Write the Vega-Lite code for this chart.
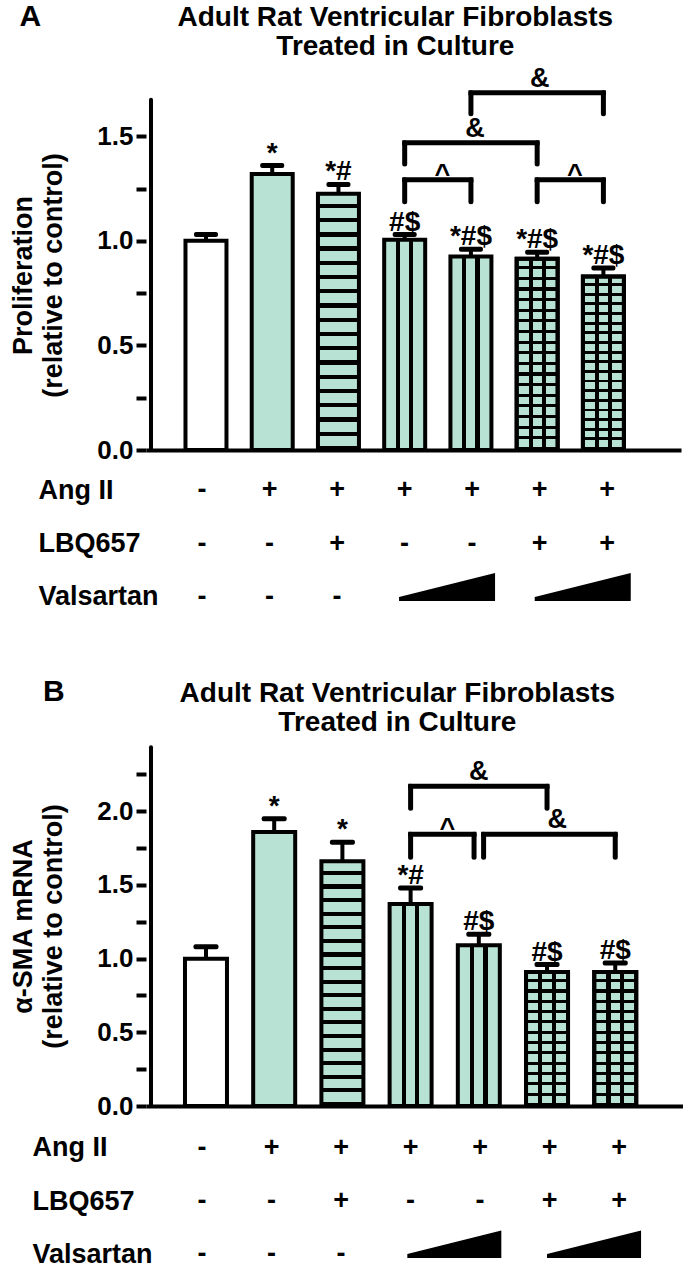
{
"$schema": "https://vega.github.io/schema/vega-lite/v6.json",
"background": "white",
"padding": {"left": 9, "top": 2, "right": 0, "bottom": 0},
"config": {
 "font": "Liberation Sans",
 "view": {"stroke": null},
 "text": {"font": "Liberation Sans", "fontWeight": "bold", "color": "black"}
},
"datasets": {
 "barsA": [
  {"bar": 1, "value": 1.00, "upper": 1.03, "label": ""},
  {"bar": 2, "value": 1.32, "upper": 1.36, "label": "*"},
  {"bar": 3, "value": 1.225, "upper": 1.27, "label": "*#"},
  {"bar": 4, "value": 1.005, "upper": 1.03, "label": "#$"},
  {"bar": 5, "value": 0.925, "upper": 0.96, "label": "*#$"},
  {"bar": 6, "value": 0.915, "upper": 0.945, "label": "*#$"},
  {"bar": 7, "value": 0.83, "upper": 0.87, "label": "*#$"}
 ],
 "bracketsA": [
  {"x1": 5, "x2": 7, "xm": 6.04, "y": 1.708, "leg": 1.608, "label": "&"},
  {"x1": 4, "x2": 6, "xm": 5.06, "y": 1.469, "leg": 1.368, "label": "&"},
  {"x1": 4, "x2": 5, "xm": 4.57, "y": 1.292, "leg": 1.187, "label": "^"},
  {"x1": 6, "x2": 7, "xm": 6.57, "y": 1.292, "leg": 1.187, "label": "^"}
 ],
 "barsB": [
  {"bar": 1, "value": 1.00, "upper": 1.08, "label": ""},
  {"bar": 2, "value": 1.86, "upper": 1.95, "label": "*"},
  {"bar": 3, "value": 1.66, "upper": 1.79, "label": "*"},
  {"bar": 4, "value": 1.37, "upper": 1.48, "label": "*#"},
  {"bar": 5, "value": 1.09, "upper": 1.165, "label": "#$"},
  {"bar": 6, "value": 0.91, "upper": 0.96, "label": "#$"},
  {"bar": 7, "value": 0.91, "upper": 0.97, "label": "#$"}
 ],
 "bracketsB": [
  {"x1": 4, "x2": 6, "xm": 5.0, "y": 2.169, "leg": 2.02, "label": "&"},
  {"x1": 4, "x2": 4.93, "xm": 4.54, "y": 1.844, "leg": 1.688, "label": "^"},
  {"x1": 5.07, "x2": 7, "xm": 6.15, "y": 1.844, "leg": 1.688, "label": "&"}
 ],
 "titles": [
  {"t": ["Adult Rat Ventricular Fibroblasts", "Treated in Culture"]}
 ],
 "table": [
  {"bar": 1, "row": "Ang II", "sign": "-"},
  {"bar": 2, "row": "Ang II", "sign": "+"},
  {"bar": 3, "row": "Ang II", "sign": "+"},
  {"bar": 4, "row": "Ang II", "sign": "+"},
  {"bar": 5, "row": "Ang II", "sign": "+"},
  {"bar": 6, "row": "Ang II", "sign": "+"},
  {"bar": 7, "row": "Ang II", "sign": "+"},
  {"bar": 1, "row": "LBQ657", "sign": "-"},
  {"bar": 2, "row": "LBQ657", "sign": "-"},
  {"bar": 3, "row": "LBQ657", "sign": "+"},
  {"bar": 4, "row": "LBQ657", "sign": "-"},
  {"bar": 5, "row": "LBQ657", "sign": "-"},
  {"bar": 6, "row": "LBQ657", "sign": "+"},
  {"bar": 7, "row": "LBQ657", "sign": "+"},
  {"bar": 1, "row": "Valsartan", "sign": "-"},
  {"bar": 2, "row": "Valsartan", "sign": "-"},
  {"bar": 3, "row": "Valsartan", "sign": "-"}
 ],
 "wedges": [
  {"x": 4.63, "row": "Valsartan"},
  {"x": 6.64, "row": "Valsartan"}
 ]
},
"spacing": 64,
"vconcat": [
 {
  "spacing": 11,
  "vconcat": [
   {
    "width": 535, "height": 389,
    "data": {"name": "barsA"},
    "layer": [
     {"mark": {"type": "bar", "size": 41, "stroke": "black", "strokeWidth": 4},
      "transform": [{"filter": "datum.bar <= 2"}],
      "encoding": {
       "x": {"field": "bar", "type": "quantitative", "scale": {"domain": [0.17, 8.096], "nice": false, "zero": false},
             "axis": {"domain": true, "domainWidth": 4, "domainColor": "black", "ticks": false, "labels": false, "title": null, "grid": false}},
       "y": {"field": "value", "type": "quantitative", "scale": {"domain": [0, 1.86], "nice": false, "zero": false},
             "axis": {"values": [0, 0.25, 0.5, 0.75, 1, 1.25, 1.5], "labelExpr": "datum.value % 0.5 == 0 ? format(datum.value, '.1f') : ''",
                      "domain": false, "grid": false, "tickSize": 10, "tickWidth": 4, "tickColor": "black",
                      "labelFontSize": 26, "labelFontWeight": "bold", "labelColor": "black", "labelPadding": 3, "labelOverlap": false, "labelFont": "Liberation Sans",
                      "title": ["Proliferation", "(relative to control)"], "titleFontSize": 27, "titleFontWeight": "bold", "titleColor": "black", "titleFont": "Liberation Sans",
                      "titlePadding": 29, "titleLineHeight": 30, "titleY": 214}},
       "fill": {"condition": {"test": "datum.bar == 1", "value": "white"}, "value": "#b7e2d4"}
      }},
     {"mark": {"type": "bar", "size": 41, "stroke": "black", "strokeWidth": 4,
               "fill": {"gradient": "linear", "x1": 0, "y1": 0, "x2": 0, "y2": 1, "stops": [
{"offset":0,"color":"#b7e2d4"},{"offset":0.0389,"color":"#b7e2d4"},{"offset":0.0389,"color":"#000000"},{"offset":0.0556,"color":"#000000"},
{"offset":0.0556,"color":"#b7e2d4"},{"offset":0.0944,"color":"#b7e2d4"},{"offset":0.0944,"color":"#000000"},{"offset":0.1111,"color":"#000000"},
{"offset":0.1111,"color":"#b7e2d4"},{"offset":0.15,"color":"#b7e2d4"},{"offset":0.15,"color":"#000000"},{"offset":0.1667,"color":"#000000"},
{"offset":0.1667,"color":"#b7e2d4"},{"offset":0.2056,"color":"#b7e2d4"},{"offset":0.2056,"color":"#000000"},{"offset":0.2222,"color":"#000000"},
{"offset":0.2222,"color":"#b7e2d4"},{"offset":0.2611,"color":"#b7e2d4"},{"offset":0.2611,"color":"#000000"},{"offset":0.2778,"color":"#000000"},
{"offset":0.2778,"color":"#b7e2d4"},{"offset":0.3167,"color":"#b7e2d4"},{"offset":0.3167,"color":"#000000"},{"offset":0.3333,"color":"#000000"},
{"offset":0.3333,"color":"#b7e2d4"},{"offset":0.3722,"color":"#b7e2d4"},{"offset":0.3722,"color":"#000000"},{"offset":0.3889,"color":"#000000"},
{"offset":0.3889,"color":"#b7e2d4"},{"offset":0.4278,"color":"#b7e2d4"},{"offset":0.4278,"color":"#000000"},{"offset":0.4444,"color":"#000000"},
{"offset":0.4444,"color":"#b7e2d4"},{"offset":0.4833,"color":"#b7e2d4"},{"offset":0.4833,"color":"#000000"},{"offset":0.5,"color":"#000000"},
{"offset":0.5,"color":"#b7e2d4"},{"offset":0.5389,"color":"#b7e2d4"},{"offset":0.5389,"color":"#000000"},{"offset":0.5556,"color":"#000000"},
{"offset":0.5556,"color":"#b7e2d4"},{"offset":0.5944,"color":"#b7e2d4"},{"offset":0.5944,"color":"#000000"},{"offset":0.6111,"color":"#000000"},
{"offset":0.6111,"color":"#b7e2d4"},{"offset":0.65,"color":"#b7e2d4"},{"offset":0.65,"color":"#000000"},{"offset":0.6667,"color":"#000000"},
{"offset":0.6667,"color":"#b7e2d4"},{"offset":0.7056,"color":"#b7e2d4"},{"offset":0.7056,"color":"#000000"},{"offset":0.7222,"color":"#000000"},
{"offset":0.7222,"color":"#b7e2d4"},{"offset":0.7611,"color":"#b7e2d4"},{"offset":0.7611,"color":"#000000"},{"offset":0.7778,"color":"#000000"},
{"offset":0.7778,"color":"#b7e2d4"},{"offset":0.8167,"color":"#b7e2d4"},{"offset":0.8167,"color":"#000000"},{"offset":0.8333,"color":"#000000"},
{"offset":0.8333,"color":"#b7e2d4"},{"offset":0.8722,"color":"#b7e2d4"},{"offset":0.8722,"color":"#000000"},{"offset":0.8889,"color":"#000000"},
{"offset":0.8889,"color":"#b7e2d4"},{"offset":0.9278,"color":"#b7e2d4"},{"offset":0.9278,"color":"#000000"},{"offset":0.9444,"color":"#000000"},
{"offset":0.9444,"color":"#b7e2d4"},{"offset":0.9833,"color":"#b7e2d4"},{"offset":0.9833,"color":"#000000"},{"offset":1,"color":"#000000"}]}},
      "transform": [{"filter": "datum.bar == 3"}],
      "encoding": {
       "x": {"field": "bar", "type": "quantitative", "scale": {"domain": [0.17, 8.096], "nice": false, "zero": false}},
       "y": {"field": "value", "type": "quantitative", "scale": {"domain": [0, 1.86], "nice": false, "zero": false}}
      }},
     {"mark": {"type": "bar", "size": 41, "stroke": "black", "strokeWidth": 4,
               "fill": {"gradient": "linear", "x1": 0, "y1": 0, "x2": 1, "y2": 0, "stops": [
{"offset":0,"color":"#b7e2d4"},{"offset":0.29,"color":"#b7e2d4"},{"offset":0.29,"color":"#000000"},{"offset":0.39,"color":"#000000"},
{"offset":0.39,"color":"#b7e2d4"},{"offset":0.61,"color":"#b7e2d4"},{"offset":0.61,"color":"#000000"},{"offset":0.71,"color":"#000000"},
{"offset":0.71,"color":"#b7e2d4"},{"offset":1,"color":"#b7e2d4"}]}},
      "transform": [{"filter": "datum.bar >= 4"}],
      "encoding": {
       "x": {"field": "bar", "type": "quantitative", "scale": {"domain": [0.17, 8.096], "nice": false, "zero": false}},
       "y": {"field": "value", "type": "quantitative", "scale": {"domain": [0, 1.86], "nice": false, "zero": false}}
      }},
     {"mark": {"type": "bar", "size": 41, "stroke": "black", "strokeWidth": 4,
               "fill": {"gradient": "linear", "x1": 0, "y1": 0, "x2": 0, "y2": 1, "stops": [
{"offset":0,"color":"rgba(0,0,0,0)"},{"offset":0.0389,"color":"rgba(0,0,0,0)"},{"offset":0.0389,"color":"#000000"},{"offset":0.0556,"color":"#000000"},
{"offset":0.0556,"color":"rgba(0,0,0,0)"},{"offset":0.0944,"color":"rgba(0,0,0,0)"},{"offset":0.0944,"color":"#000000"},{"offset":0.1111,"color":"#000000"},
{"offset":0.1111,"color":"rgba(0,0,0,0)"},{"offset":0.15,"color":"rgba(0,0,0,0)"},{"offset":0.15,"color":"#000000"},{"offset":0.1667,"color":"#000000"},
{"offset":0.1667,"color":"rgba(0,0,0,0)"},{"offset":0.2056,"color":"rgba(0,0,0,0)"},{"offset":0.2056,"color":"#000000"},{"offset":0.2222,"color":"#000000"},
{"offset":0.2222,"color":"rgba(0,0,0,0)"},{"offset":0.2611,"color":"rgba(0,0,0,0)"},{"offset":0.2611,"color":"#000000"},{"offset":0.2778,"color":"#000000"},
{"offset":0.2778,"color":"rgba(0,0,0,0)"},{"offset":0.3167,"color":"rgba(0,0,0,0)"},{"offset":0.3167,"color":"#000000"},{"offset":0.3333,"color":"#000000"},
{"offset":0.3333,"color":"rgba(0,0,0,0)"},{"offset":0.3722,"color":"rgba(0,0,0,0)"},{"offset":0.3722,"color":"#000000"},{"offset":0.3889,"color":"#000000"},
{"offset":0.3889,"color":"rgba(0,0,0,0)"},{"offset":0.4278,"color":"rgba(0,0,0,0)"},{"offset":0.4278,"color":"#000000"},{"offset":0.4444,"color":"#000000"},
{"offset":0.4444,"color":"rgba(0,0,0,0)"},{"offset":0.4833,"color":"rgba(0,0,0,0)"},{"offset":0.4833,"color":"#000000"},{"offset":0.5,"color":"#000000"},
{"offset":0.5,"color":"rgba(0,0,0,0)"},{"offset":0.5389,"color":"rgba(0,0,0,0)"},{"offset":0.5389,"color":"#000000"},{"offset":0.5556,"color":"#000000"},
{"offset":0.5556,"color":"rgba(0,0,0,0)"},{"offset":0.5944,"color":"rgba(0,0,0,0)"},{"offset":0.5944,"color":"#000000"},{"offset":0.6111,"color":"#000000"},
{"offset":0.6111,"color":"rgba(0,0,0,0)"},{"offset":0.65,"color":"rgba(0,0,0,0)"},{"offset":0.65,"color":"#000000"},{"offset":0.6667,"color":"#000000"},
{"offset":0.6667,"color":"rgba(0,0,0,0)"},{"offset":0.7056,"color":"rgba(0,0,0,0)"},{"offset":0.7056,"color":"#000000"},{"offset":0.7222,"color":"#000000"},
{"offset":0.7222,"color":"rgba(0,0,0,0)"},{"offset":0.7611,"color":"rgba(0,0,0,0)"},{"offset":0.7611,"color":"#000000"},{"offset":0.7778,"color":"#000000"},
{"offset":0.7778,"color":"rgba(0,0,0,0)"},{"offset":0.8167,"color":"rgba(0,0,0,0)"},{"offset":0.8167,"color":"#000000"},{"offset":0.8333,"color":"#000000"},
{"offset":0.8333,"color":"rgba(0,0,0,0)"},{"offset":0.8722,"color":"rgba(0,0,0,0)"},{"offset":0.8722,"color":"#000000"},{"offset":0.8889,"color":"#000000"},
{"offset":0.8889,"color":"rgba(0,0,0,0)"},{"offset":0.9278,"color":"rgba(0,0,0,0)"},{"offset":0.9278,"color":"#000000"},{"offset":0.9444,"color":"#000000"},
{"offset":0.9444,"color":"rgba(0,0,0,0)"},{"offset":0.9833,"color":"rgba(0,0,0,0)"},{"offset":0.9833,"color":"#000000"},{"offset":1,"color":"#000000"}]}},
      "transform": [{"filter": "datum.bar >= 6"}],
      "encoding": {
       "x": {"field": "bar", "type": "quantitative", "scale": {"domain": [0.17, 8.096], "nice": false, "zero": false}},
       "y": {"field": "value", "type": "quantitative", "scale": {"domain": [0, 1.86], "nice": false, "zero": false}}
      }},
     {"mark": {"type": "rule", "strokeWidth": 4, "color": "black"},
      "encoding": {
       "x": {"field": "bar", "type": "quantitative", "scale": {"domain": [0.17, 8.096], "nice": false, "zero": false}},
       "y": {"field": "value", "type": "quantitative", "scale": {"domain": [0, 1.86], "nice": false, "zero": false}},
       "y2": {"field": "upper"}
      }},
     {"mark": {"type": "tick", "orient": "horizontal", "size": 24, "thickness": 5, "color": "black", "opacity": 1, "cornerRadius": 2},
      "encoding": {
       "x": {"field": "bar", "type": "quantitative", "scale": {"domain": [0.17, 8.096], "nice": false, "zero": false}},
       "y": {"field": "upper", "type": "quantitative", "scale": {"domain": [0, 1.86], "nice": false, "zero": false}}
      }},
     {"mark": {"type": "text", "fontSize": 28, "fontWeight": "bold", "align": "center", "baseline": "alphabetic", "dy": -4},
      "encoding": {
       "x": {"field": "bar", "type": "quantitative", "scale": {"domain": [0.17, 8.096], "nice": false, "zero": false}},
       "y": {"field": "upper", "type": "quantitative", "scale": {"domain": [0, 1.86], "nice": false, "zero": false}},
       "text": {"field": "label"}
      }},
     {"data": {"name": "bracketsA"},
      "mark": {"type": "rule", "strokeWidth": 5, "color": "black", "strokeCap": "square"},
      "encoding": {
       "x": {"field": "x1", "type": "quantitative", "scale": {"domain": [0.17, 8.096], "nice": false, "zero": false}},
       "x2": {"field": "x2"},
       "y": {"field": "y", "type": "quantitative", "scale": {"domain": [0, 1.86], "nice": false, "zero": false}}
      }},
     {"data": {"name": "bracketsA"},
      "mark": {"type": "rule", "strokeWidth": 5, "color": "black", "strokeCap": "round"},
      "encoding": {
       "x": {"field": "x1", "type": "quantitative", "scale": {"domain": [0.17, 8.096], "nice": false, "zero": false}},
       "y": {"field": "leg", "type": "quantitative", "scale": {"domain": [0, 1.86], "nice": false, "zero": false}},
       "y2": {"field": "y"}
      }},
     {"data": {"name": "bracketsA"},
      "mark": {"type": "rule", "strokeWidth": 5, "color": "black", "strokeCap": "round"},
      "encoding": {
       "x": {"field": "x2", "type": "quantitative", "scale": {"domain": [0.17, 8.096], "nice": false, "zero": false}},
       "y": {"field": "leg", "type": "quantitative", "scale": {"domain": [0, 1.86], "nice": false, "zero": false}},
       "y2": {"field": "y"}
      }},
     {"data": {"name": "bracketsA"},
      "transform": [{"filter": "datum.label == '&'"}],
      "mark": {"type": "text", "fontSize": 27, "fontWeight": "bold", "align": "center", "baseline": "alphabetic", "dy": -6},
      "encoding": {
       "x": {"field": "xm", "type": "quantitative", "scale": {"domain": [0.17, 8.096], "nice": false, "zero": false}},
       "y": {"field": "y", "type": "quantitative", "scale": {"domain": [0, 1.86], "nice": false, "zero": false}},
       "text": {"field": "label"}
      }},
     {"data": {"name": "bracketsA"},
      "transform": [{"filter": "datum.label == '^'"}],
      "mark": {"type": "text", "fontSize": 27, "fontWeight": "bold", "align": "center", "baseline": "alphabetic", "dy": 3},
      "encoding": {
       "x": {"field": "xm", "type": "quantitative", "scale": {"domain": [0.17, 8.096], "nice": false, "zero": false}},
       "y": {"field": "y", "type": "quantitative", "scale": {"domain": [0, 1.86], "nice": false, "zero": false}},
       "text": {"field": "label"}
      }},
     {"data": {"values": [{"t": "A"}]},
      "mark": {"type": "rule", "strokeWidth": 4, "color": "black", "strokeCap": "round"},
      "encoding": {
       "x": {"datum": 0.17, "type": "quantitative", "scale": {"domain": [0.17, 8.096], "nice": false, "zero": false}},
       "y": {"datum": 0, "type": "quantitative", "scale": {"domain": [0, 1.86], "nice": false, "zero": false}},
       "y2": {"datum": 1.675}
      }},
     {"data": {"values": [{"t": "A"}]},
      "mark": {"type": "text", "fontSize": 30, "fontWeight": "bold", "align": "left", "baseline": "middle"},
      "encoding": {
       "x": {"datum": -1.815, "type": "quantitative", "scale": {"domain": [0.17, 8.096], "nice": false, "zero": false}},
       "y": {"datum": 2.07, "type": "quantitative", "scale": {"domain": [0, 1.86], "nice": false, "zero": false}},
       "text": {"field": "t"}
      }},
     {"data": {"name": "titles"},
      "mark": {"type": "text", "fontSize": 28, "fontWeight": "bold", "align": "center", "baseline": "middle", "lineHeight": 29},
      "encoding": {
       "x": {"datum": 3.859, "type": "quantitative", "scale": {"domain": [0.17, 8.096], "nice": false, "zero": false}},
       "y": {"datum": 2.066, "type": "quantitative", "scale": {"domain": [0, 1.86], "nice": false, "zero": false}},
       "text": {"field": "t"}
      }}
    ]
   },
   {
    "width": 535, "height": 139,
    "layer": [
     {"data": {"name": "table"},
      "mark": {"type": "text", "fontSize": 27, "fontWeight": "bold", "align": "center", "baseline": "middle"},
      "encoding": {
       "x": {"field": "bar", "type": "quantitative", "scale": {"domain": [0.17, 8.096], "nice": false, "zero": false}, "axis": null},
       "y": {"field": "row", "type": "nominal", "scale": {"domain": ["Ang II", "LBQ657", "Valsartan"], "padding": 0.3},
             "axis": {"title": null, "domain": false, "ticks": false, "tickSize": 0, "labelAlign": "left", "labelPadding": 108, "labelFontSize": 27, "labelFontWeight": "bold", "labelColor": "black", "labelFont": "Liberation Sans", "labelBaseline": "middle"}},
       "text": {"field": "sign"}
      }},
     {"data": {"name": "wedges"},
      "mark": {"type": "point", "shape": "M-1,0.083L-1,0L1,-0.5L1,0.083Z", "size": 9216, "filled": true, "color": "black", "opacity": 1, "strokeWidth": 0},
      "encoding": {
       "x": {"field": "x", "type": "quantitative", "scale": {"domain": [0.17, 8.096], "nice": false, "zero": false}, "axis": null},
       "y": {"field": "row", "type": "nominal", "scale": {"domain": ["Ang II", "LBQ657", "Valsartan"], "padding": 0.3}}
      }}
    ]
   }
  ]
 },
 {
  "spacing": 13,
  "vconcat": [
   {
    "width": 537, "height": 364,
    "data": {"name": "barsB"},
    "layer": [
     {"mark": {"type": "bar", "size": 42, "stroke": "black", "strokeWidth": 4},
      "transform": [{"filter": "datum.bar <= 2"}],
      "encoding": {
       "x": {"field": "bar", "type": "quantitative", "scale": {"domain": [0.194, 7.92], "nice": false, "zero": false},
             "axis": {"domain": true, "domainWidth": 4, "domainColor": "black", "ticks": false, "labels": false, "title": null, "grid": false}},
       "y": {"field": "value", "type": "quantitative", "scale": {"domain": [0, 2.47], "nice": false, "zero": false},
             "axis": {"values": [0, 0.25, 0.5, 0.75, 1, 1.25, 1.5, 1.75, 2, 2.25], "labelExpr": "datum.value % 0.5 == 0 ? format(datum.value, '.1f') : ''",
                      "domain": false, "grid": false, "tickSize": 10, "tickWidth": 4, "tickColor": "black",
                      "labelFontSize": 26, "labelFontWeight": "bold", "labelColor": "black", "labelPadding": 3, "labelOverlap": false, "labelFont": "Liberation Sans",
                      "title": ["α-SMA mRNA", "(relative to control)"], "titleFontSize": 27, "titleFontWeight": "bold", "titleColor": "black", "titleFont": "Liberation Sans",
                      "titlePadding": 29, "titleLineHeight": 30, "titleY": 184}},
       "fill": {"condition": {"test": "datum.bar == 1", "value": "white"}, "value": "#b7e2d4"}
      }},
     {"mark": {"type": "bar", "size": 42, "stroke": "black", "strokeWidth": 4,
               "fill": {"gradient": "linear", "x1": 0, "y1": 0, "x2": 0, "y2": 1, "stops": [
{"offset":0,"color":"#b7e2d4"},{"offset":0.0389,"color":"#b7e2d4"},{"offset":0.0389,"color":"#000000"},{"offset":0.0556,"color":"#000000"},
{"offset":0.0556,"color":"#b7e2d4"},{"offset":0.0944,"color":"#b7e2d4"},{"offset":0.0944,"color":"#000000"},{"offset":0.1111,"color":"#000000"},
{"offset":0.1111,"color":"#b7e2d4"},{"offset":0.15,"color":"#b7e2d4"},{"offset":0.15,"color":"#000000"},{"offset":0.1667,"color":"#000000"},
{"offset":0.1667,"color":"#b7e2d4"},{"offset":0.2056,"color":"#b7e2d4"},{"offset":0.2056,"color":"#000000"},{"offset":0.2222,"color":"#000000"},
{"offset":0.2222,"color":"#b7e2d4"},{"offset":0.2611,"color":"#b7e2d4"},{"offset":0.2611,"color":"#000000"},{"offset":0.2778,"color":"#000000"},
{"offset":0.2778,"color":"#b7e2d4"},{"offset":0.3167,"color":"#b7e2d4"},{"offset":0.3167,"color":"#000000"},{"offset":0.3333,"color":"#000000"},
{"offset":0.3333,"color":"#b7e2d4"},{"offset":0.3722,"color":"#b7e2d4"},{"offset":0.3722,"color":"#000000"},{"offset":0.3889,"color":"#000000"},
{"offset":0.3889,"color":"#b7e2d4"},{"offset":0.4278,"color":"#b7e2d4"},{"offset":0.4278,"color":"#000000"},{"offset":0.4444,"color":"#000000"},
{"offset":0.4444,"color":"#b7e2d4"},{"offset":0.4833,"color":"#b7e2d4"},{"offset":0.4833,"color":"#000000"},{"offset":0.5,"color":"#000000"},
{"offset":0.5,"color":"#b7e2d4"},{"offset":0.5389,"color":"#b7e2d4"},{"offset":0.5389,"color":"#000000"},{"offset":0.5556,"color":"#000000"},
{"offset":0.5556,"color":"#b7e2d4"},{"offset":0.5944,"color":"#b7e2d4"},{"offset":0.5944,"color":"#000000"},{"offset":0.6111,"color":"#000000"},
{"offset":0.6111,"color":"#b7e2d4"},{"offset":0.65,"color":"#b7e2d4"},{"offset":0.65,"color":"#000000"},{"offset":0.6667,"color":"#000000"},
{"offset":0.6667,"color":"#b7e2d4"},{"offset":0.7056,"color":"#b7e2d4"},{"offset":0.7056,"color":"#000000"},{"offset":0.7222,"color":"#000000"},
{"offset":0.7222,"color":"#b7e2d4"},{"offset":0.7611,"color":"#b7e2d4"},{"offset":0.7611,"color":"#000000"},{"offset":0.7778,"color":"#000000"},
{"offset":0.7778,"color":"#b7e2d4"},{"offset":0.8167,"color":"#b7e2d4"},{"offset":0.8167,"color":"#000000"},{"offset":0.8333,"color":"#000000"},
{"offset":0.8333,"color":"#b7e2d4"},{"offset":0.8722,"color":"#b7e2d4"},{"offset":0.8722,"color":"#000000"},{"offset":0.8889,"color":"#000000"},
{"offset":0.8889,"color":"#b7e2d4"},{"offset":0.9278,"color":"#b7e2d4"},{"offset":0.9278,"color":"#000000"},{"offset":0.9444,"color":"#000000"},
{"offset":0.9444,"color":"#b7e2d4"},{"offset":0.9833,"color":"#b7e2d4"},{"offset":0.9833,"color":"#000000"},{"offset":1,"color":"#000000"}]}},
      "transform": [{"filter": "datum.bar == 3"}],
      "encoding": {
       "x": {"field": "bar", "type": "quantitative", "scale": {"domain": [0.194, 7.92], "nice": false, "zero": false}},
       "y": {"field": "value", "type": "quantitative", "scale": {"domain": [0, 2.47], "nice": false, "zero": false}}
      }},
     {"mark": {"type": "bar", "size": 42, "stroke": "black", "strokeWidth": 4,
               "fill": {"gradient": "linear", "x1": 0, "y1": 0, "x2": 1, "y2": 0, "stops": [
{"offset":0,"color":"#b7e2d4"},{"offset":0.29,"color":"#b7e2d4"},{"offset":0.29,"color":"#000000"},{"offset":0.39,"color":"#000000"},
{"offset":0.39,"color":"#b7e2d4"},{"offset":0.61,"color":"#b7e2d4"},{"offset":0.61,"color":"#000000"},{"offset":0.71,"color":"#000000"},
{"offset":0.71,"color":"#b7e2d4"},{"offset":1,"color":"#b7e2d4"}]}},
      "transform": [{"filter": "datum.bar >= 4"}],
      "encoding": {
       "x": {"field": "bar", "type": "quantitative", "scale": {"domain": [0.194, 7.92], "nice": false, "zero": false}},
       "y": {"field": "value", "type": "quantitative", "scale": {"domain": [0, 2.47], "nice": false, "zero": false}}
      }},
     {"mark": {"type": "bar", "size": 42, "stroke": "black", "strokeWidth": 4,
               "fill": {"gradient": "linear", "x1": 0, "y1": 0, "x2": 0, "y2": 1, "stops": [
{"offset":0,"color":"rgba(0,0,0,0)"},{"offset":0.0538,"color":"rgba(0,0,0,0)"},{"offset":0.0538,"color":"#000000"},{"offset":0.0769,"color":"#000000"},
{"offset":0.0769,"color":"rgba(0,0,0,0)"},{"offset":0.1308,"color":"rgba(0,0,0,0)"},{"offset":0.1308,"color":"#000000"},{"offset":0.1538,"color":"#000000"},
{"offset":0.1538,"color":"rgba(0,0,0,0)"},{"offset":0.2077,"color":"rgba(0,0,0,0)"},{"offset":0.2077,"color":"#000000"},{"offset":0.2308,"color":"#000000"},
{"offset":0.2308,"color":"rgba(0,0,0,0)"},{"offset":0.2846,"color":"rgba(0,0,0,0)"},{"offset":0.2846,"color":"#000000"},{"offset":0.3077,"color":"#000000"},
{"offset":0.3077,"color":"rgba(0,0,0,0)"},{"offset":0.3615,"color":"rgba(0,0,0,0)"},{"offset":0.3615,"color":"#000000"},{"offset":0.3846,"color":"#000000"},
{"offset":0.3846,"color":"rgba(0,0,0,0)"},{"offset":0.4385,"color":"rgba(0,0,0,0)"},{"offset":0.4385,"color":"#000000"},{"offset":0.4615,"color":"#000000"},
{"offset":0.4615,"color":"rgba(0,0,0,0)"},{"offset":0.5154,"color":"rgba(0,0,0,0)"},{"offset":0.5154,"color":"#000000"},{"offset":0.5385,"color":"#000000"},
{"offset":0.5385,"color":"rgba(0,0,0,0)"},{"offset":0.5923,"color":"rgba(0,0,0,0)"},{"offset":0.5923,"color":"#000000"},{"offset":0.6154,"color":"#000000"},
{"offset":0.6154,"color":"rgba(0,0,0,0)"},{"offset":0.6692,"color":"rgba(0,0,0,0)"},{"offset":0.6692,"color":"#000000"},{"offset":0.6923,"color":"#000000"},
{"offset":0.6923,"color":"rgba(0,0,0,0)"},{"offset":0.7462,"color":"rgba(0,0,0,0)"},{"offset":0.7462,"color":"#000000"},{"offset":0.7692,"color":"#000000"},
{"offset":0.7692,"color":"rgba(0,0,0,0)"},{"offset":0.8231,"color":"rgba(0,0,0,0)"},{"offset":0.8231,"color":"#000000"},{"offset":0.8462,"color":"#000000"},
{"offset":0.8462,"color":"rgba(0,0,0,0)"},{"offset":0.9,"color":"rgba(0,0,0,0)"},{"offset":0.9,"color":"#000000"},{"offset":0.9231,"color":"#000000"},
{"offset":0.9231,"color":"rgba(0,0,0,0)"},{"offset":0.9769,"color":"rgba(0,0,0,0)"},{"offset":0.9769,"color":"#000000"},{"offset":1,"color":"#000000"}]}},
      "transform": [{"filter": "datum.bar >= 6"}],
      "encoding": {
       "x": {"field": "bar", "type": "quantitative", "scale": {"domain": [0.194, 7.92], "nice": false, "zero": false}},
       "y": {"field": "value", "type": "quantitative", "scale": {"domain": [0, 2.47], "nice": false, "zero": false}}
      }},
     {"mark": {"type": "rule", "strokeWidth": 4, "color": "black"},
      "encoding": {
       "x": {"field": "bar", "type": "quantitative", "scale": {"domain": [0.194, 7.92], "nice": false, "zero": false}},
       "y": {"field": "value", "type": "quantitative", "scale": {"domain": [0, 2.47], "nice": false, "zero": false}},
       "y2": {"field": "upper"}
      }},
     {"mark": {"type": "tick", "orient": "horizontal", "size": 25, "thickness": 5, "color": "black", "opacity": 1, "cornerRadius": 2},
      "encoding": {
       "x": {"field": "bar", "type": "quantitative", "scale": {"domain": [0.194, 7.92], "nice": false, "zero": false}},
       "y": {"field": "upper", "type": "quantitative", "scale": {"domain": [0, 2.47], "nice": false, "zero": false}}
      }},
     {"mark": {"type": "text", "fontSize": 28, "fontWeight": "bold", "align": "center", "baseline": "alphabetic", "dy": -4},
      "encoding": {
       "x": {"field": "bar", "type": "quantitative", "scale": {"domain": [0.194, 7.92], "nice": false, "zero": false}},
       "y": {"field": "upper", "type": "quantitative", "scale": {"domain": [0, 2.47], "nice": false, "zero": false}},
       "text": {"field": "label"}
      }},
     {"data": {"name": "bracketsB"},
      "mark": {"type": "rule", "strokeWidth": 5, "color": "black", "strokeCap": "square"},
      "encoding": {
       "x": {"field": "x1", "type": "quantitative", "scale": {"domain": [0.194, 7.92], "nice": false, "zero": false}},
       "x2": {"field": "x2"},
       "y": {"field": "y", "type": "quantitative", "scale": {"domain": [0, 2.47], "nice": false, "zero": false}}
      }},
     {"data": {"name": "bracketsB"},
      "mark": {"type": "rule", "strokeWidth": 5, "color": "black", "strokeCap": "round"},
      "encoding": {
       "x": {"field": "x1", "type": "quantitative", "scale": {"domain": [0.194, 7.92], "nice": false, "zero": false}},
       "y": {"field": "leg", "type": "quantitative", "scale": {"domain": [0, 2.47], "nice": false, "zero": false}},
       "y2": {"field": "y"}
      }},
     {"data": {"name": "bracketsB"},
      "mark": {"type": "rule", "strokeWidth": 5, "color": "black", "strokeCap": "round"},
      "encoding": {
       "x": {"field": "x2", "type": "quantitative", "scale": {"domain": [0.194, 7.92], "nice": false, "zero": false}},
       "y": {"field": "leg", "type": "quantitative", "scale": {"domain": [0, 2.47], "nice": false, "zero": false}},
       "y2": {"field": "y"}
      }},
     {"data": {"name": "bracketsB"},
      "transform": [{"filter": "datum.label == '&'"}],
      "mark": {"type": "text", "fontSize": 27, "fontWeight": "bold", "align": "center", "baseline": "alphabetic", "dy": -6},
      "encoding": {
       "x": {"field": "xm", "type": "quantitative", "scale": {"domain": [0.194, 7.92], "nice": false, "zero": false}},
       "y": {"field": "y", "type": "quantitative", "scale": {"domain": [0, 2.47], "nice": false, "zero": false}},
       "text": {"field": "label"}
      }},
     {"data": {"name": "bracketsB"},
      "transform": [{"filter": "datum.label == '^'"}],
      "mark": {"type": "text", "fontSize": 27, "fontWeight": "bold", "align": "center", "baseline": "alphabetic", "dy": 3},
      "encoding": {
       "x": {"field": "xm", "type": "quantitative", "scale": {"domain": [0.194, 7.92], "nice": false, "zero": false}},
       "y": {"field": "y", "type": "quantitative", "scale": {"domain": [0, 2.47], "nice": false, "zero": false}},
       "text": {"field": "label"}
      }},
     {"data": {"values": [{"t": "B"}]},
      "mark": {"type": "rule", "strokeWidth": 4, "color": "black", "strokeCap": "round"},
      "encoding": {
       "x": {"datum": 0.194, "type": "quantitative", "scale": {"domain": [0.194, 7.92], "nice": false, "zero": false}},
       "y": {"datum": 0, "type": "quantitative", "scale": {"domain": [0, 2.47], "nice": false, "zero": false}},
       "y2": {"datum": 2.434}
      }},
     {"data": {"values": [{"t": "B"}]},
      "mark": {"type": "text", "fontSize": 30, "fontWeight": "bold", "align": "left", "baseline": "middle"},
      "encoding": {
       "x": {"datum": -1.389, "type": "quantitative", "scale": {"domain": [0.194, 7.92], "nice": false, "zero": false}},
       "y": {"datum": 2.809, "type": "quantitative", "scale": {"domain": [0, 2.47], "nice": false, "zero": false}},
       "text": {"field": "t"}
      }},
     {"data": {"name": "titles"},
      "mark": {"type": "text", "fontSize": 28, "fontWeight": "bold", "align": "center", "baseline": "middle", "lineHeight": 29},
      "encoding": {
       "x": {"datum": 3.806, "type": "quantitative", "scale": {"domain": [0.194, 7.92], "nice": false, "zero": false}},
       "y": {"datum": 2.795, "type": "quantitative", "scale": {"domain": [0, 2.47], "nice": false, "zero": false}},
       "text": {"field": "t"}
      }}
    ]
   },
   {
    "width": 537, "height": 138,
    "layer": [
     {"data": {"name": "table"},
      "mark": {"type": "text", "fontSize": 27, "fontWeight": "bold", "align": "center", "baseline": "middle"},
      "encoding": {
       "x": {"field": "bar", "type": "quantitative", "scale": {"domain": [0.194, 7.92], "nice": false, "zero": false}, "axis": null},
       "y": {"field": "row", "type": "nominal", "scale": {"domain": ["Ang II", "LBQ657", "Valsartan"], "padding": 0.3},
             "axis": {"title": null, "domain": false, "ticks": false, "tickSize": 0, "labelAlign": "left", "labelPadding": 114, "labelFontSize": 27, "labelFontWeight": "bold", "labelColor": "black", "labelFont": "Liberation Sans", "labelBaseline": "middle"}},
       "text": {"field": "sign"}
      }},
     {"data": {"name": "wedges"},
      "mark": {"type": "point", "shape": "M-1,0.083L-1,0L1,-0.5L1,0.083Z", "size": 8836, "filled": true, "color": "black", "opacity": 1, "strokeWidth": 0},
      "encoding": {
       "x": {"field": "x", "type": "quantitative", "scale": {"domain": [0.194, 7.92], "nice": false, "zero": false}, "axis": null},
       "y": {"field": "row", "type": "nominal", "scale": {"domain": ["Ang II", "LBQ657", "Valsartan"], "padding": 0.3}}
      }}
    ]
   }
  ]
 }
]
}
